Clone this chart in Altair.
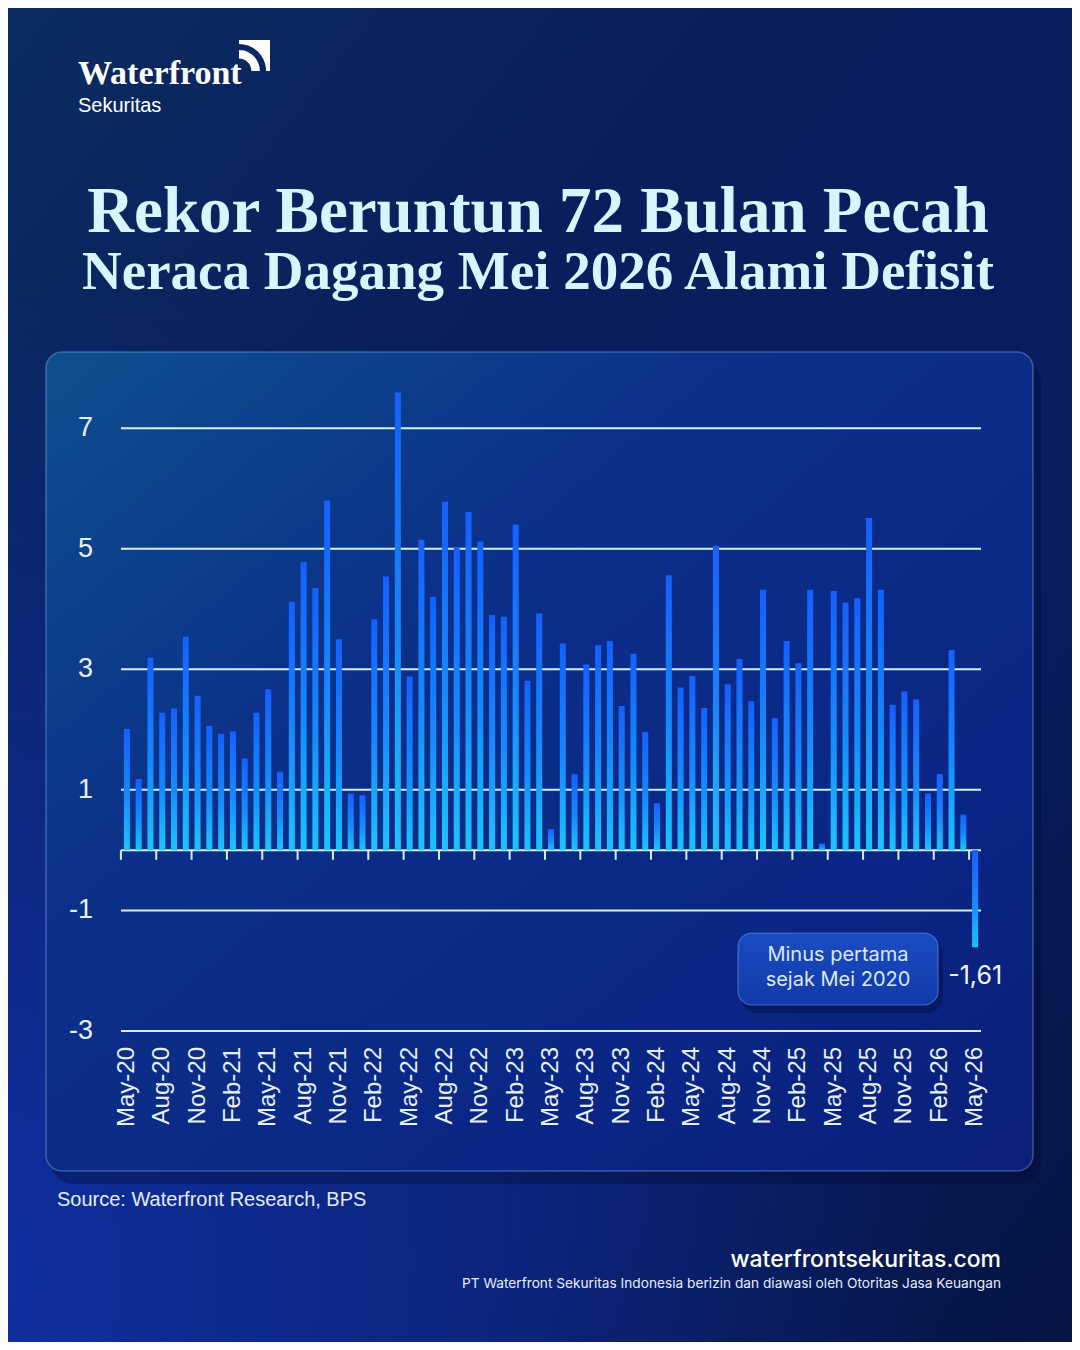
import altair as alt
import pandas as pd

# ---------------- data ----------------
months = [d.strftime("%b-%y") for d in pd.date_range("2020-05-01", "2026-05-01", freq="MS")]
balance = [
    2.01, 1.18, 3.19, 2.28, 2.35, 3.54, 2.56, 2.06, 1.93, 1.97,
    1.52, 2.28, 2.67, 1.30, 4.12, 4.78, 4.35, 5.80, 3.50, 0.94,
    0.91, 3.83, 4.54, 7.59, 2.88, 5.15, 4.20, 5.78, 5.02, 5.61,
    5.12, 3.90, 3.87, 5.40, 2.81, 3.93, 0.35, 3.43, 1.26, 3.08,
    3.40, 3.47, 2.39, 3.26, 1.96, 0.78, 4.56, 2.70, 2.89, 2.36,
    5.05, 2.75, 3.17, 2.47, 4.32, 2.19, 3.47, 3.10, 4.32, 0.11,
    4.30, 4.11, 4.18, 5.51, 4.32, 2.41, 2.63, 2.50, 0.94, 1.26,
    3.32, 0.59, -1.61,
]
y_ticks = [7, 5, 3, 1, -1, -3]
x_label_months = months[::3]

title_line1 = "Rekor Beruntun 72 Bulan Pecah"
title_line2 = "Neraca Dagang Mei 2026 Alami Defisit"
note_line1 = "Minus pertama"
note_line2 = "sejak Mei 2020"
source_text = "Source: Waterfront Research, BPS"
site_text = "waterfrontsekuritas.com"
legal_text = "PT Waterfront Sekuritas Indonesia berizin dan diawasi oleh Otoritas Jasa Keuangan"

df = pd.DataFrame({"month": months, "value": balance})
df["zero"] = 0.0
df["label"] = [f"{v:.2f}".replace(".", ",") for v in balance]
last_df = df.iloc[[-1]]
grid_df = pd.DataFrame({"g": y_ticks, "glabel": [str(v) for v in y_ticks]})
tick_df = pd.DataFrame({"month": x_label_months, "t0": [0.0] * len(x_label_months),
                        "t1": [-0.16] * len(x_label_months)})
one = pd.DataFrame({"k": [0.0]})

W, H = 860, 639
PL, PT = 113, 384
TOTAL_W, TOTAL_H = 1064, 1334

xscale = alt.Scale(domain=months, paddingInner=0.49, paddingOuter=0.245)
yscale = alt.Scale(domain=[-3, 7.6], nice=False)

LABEL_COLOR = "#e6f1ff"
GRID_COLOR = "#d2eeff"


def grad(stops, x1=0, y1=0, x2=0, y2=1):
    return alt.LinearGradient(
        gradient="linear", x1=x1, y1=y1, x2=x2, y2=y2,
        stops=[alt.GradientStop(offset=o, color=c) for o, c in stops])


# ---------------- background ----------------
bg = alt.Chart(one).mark_rect(
    fill=grad([(0, "#0a2c60"), (0.35, "#0a1d5c"), (0.7, "#091c60"), (1, "#061443")], 0, 0, 1, 1)
).encode(x=alt.value(-PL), x2=alt.value(TOTAL_W - PL), y=alt.value(-PT), y2=alt.value(TOTAL_H - PT))

glow = alt.Chart(one).mark_rect(
    fill=alt.RadialGradient(
        gradient="radial", x1=0.05, y1=0.95, r1=0, x2=0.05, y2=0.95, r2=0.75,
        stops=[alt.GradientStop(offset=0, color="rgba(16,52,180,0.8)"),
               alt.GradientStop(offset=1, color="rgba(16,52,180,0)")])
).encode(x=alt.value(-PL), x2=alt.value(TOTAL_W - PL), y=alt.value(-PT), y2=alt.value(TOTAL_H - PT))

panel_shadow = alt.Chart(one).mark_rect(
    fill="#020a30", opacity=0.35, cornerRadius=22
).encode(x=alt.value(-70), x2=alt.value(920), y=alt.value(-32), y2=alt.value(792))

panel = alt.Chart(one).mark_rect(
    fill=grad([(0, "#0e4f8e"), (0.35, "#0b3088"), (0.75, "#0a2585"), (1, "#0a1f78")], 0, 0, 1, 1),
    stroke="rgba(150,195,255,0.35)", strokeWidth=1.5, cornerRadius=16
).encode(x=alt.value(-75), x2=alt.value(912), y=alt.value(-40), y2=alt.value(779))

# ---------------- chart marks ----------------
grid = alt.Chart(grid_df).mark_rule(color=GRID_COLOR, strokeWidth=2).encode(
    y=alt.Y("g:Q", scale=yscale, axis=None), x=alt.value(0), x2=alt.value(W))

y_labels = alt.Chart(grid_df).mark_text(font="Liberation Sans", fontSize=27, color=LABEL_COLOR,
                                        align="right", baseline="middle").encode(
    y=alt.Y("g:Q", scale=yscale, axis=None), x=alt.value(-28), text="glabel:N")

baseline = alt.Chart(one).mark_rule(color=GRID_COLOR, strokeWidth=2).encode(
    y=alt.Y("k:Q", scale=yscale, axis=None), x=alt.value(0), x2=alt.value(W))

ticks = alt.Chart(tick_df).mark_rule(color=GRID_COLOR, strokeWidth=2, xOffset=-3).encode(
    x=alt.X("month:N", sort=months, scale=xscale, bandPosition=0, axis=None),
    y=alt.Y("t0:Q", scale=yscale, axis=None), y2="t1:Q")

x_labels = alt.Chart(tick_df).mark_text(font="Liberation Sans", fontSize=24, color=LABEL_COLOR,
                                        angle=270, align="right", baseline="middle").encode(
    x=alt.X("month:N", sort=months, scale=xscale, axis=None),
    y=alt.value(H + 16), text="month:N")

bars = alt.Chart(df).mark_bar(
    fill=grad([(0, "#1560ff"), (0.55, "#1689ff"), (1, "#1cc4ff")])
).encode(
    x=alt.X("month:N", sort=months, scale=xscale, axis=None),
    y=alt.Y("value:Q", scale=yscale, axis=None),
    y2="zero:Q",
)

# ---------------- annotation ----------------
note_shadow = alt.Chart(one).mark_rect(fill="#020a30", opacity=0.35, cornerRadius=16).encode(
    x=alt.value(620), x2=alt.value(822), y=alt.value(547), y2=alt.value(621))
note_box = alt.Chart(one).mark_rect(
    fill=grad([(0, "#1a4cc2"), (1, "#1239a8")]),
    stroke="rgba(130,170,255,0.45)", strokeWidth=1.2, cornerRadius=14
).encode(x=alt.value(617), x2=alt.value(817), y=alt.value(541), y2=alt.value(613))

note1 = alt.Chart(one).mark_text(text=note_line1, font="Inter", fontSize=20, color="#dbe8ff",
                                 align="center", baseline="middle").encode(
    x=alt.value(717), y=alt.value(563))
note2 = alt.Chart(one).mark_text(text=note_line2, font="Inter", fontSize=20, color="#dbe8ff",
                                 align="center", baseline="middle").encode(
    x=alt.value(717), y=alt.value(588))

value_label = alt.Chart(last_df).mark_text(font="Inter", fontSize=25, color="#f2f7ff", dy=29,
                                           align="center", baseline="middle").encode(
    x=alt.X("month:N", sort=months, scale=xscale, axis=None),
    y=alt.Y("value:Q", scale=yscale, axis=None),
    text="label:N")

# ---------------- titles & branding ----------------
def title_text(txt, size, y, color):
    return alt.Chart(one).mark_text(text=txt, font="Liberation Serif", fontWeight="bold",
                                    fontSize=size, color=color, align="center",
                                    baseline="alphabetic").encode(
        x=alt.value(417), y=alt.value(y))

t1 = title_text(title_line1, 65, -160, "#d6f5ff")
t2 = title_text(title_line2, 55, -103, "#d6f5ff")

logo_word = alt.Chart(one).mark_text(text="Waterfront", font="Liberation Serif", fontWeight="bold",
                                     fontSize=34, color="#ffffff", align="left",
                                     baseline="alphabetic").encode(
    x=alt.value(-43), y=alt.value(-308))
logo_sub = alt.Chart(one).mark_text(text="Sekuritas", font="Liberation Sans", fontSize=20,
                                    color="#ffffff", align="left", baseline="alphabetic").encode(
    x=alt.value(-43), y=alt.value(-280))
icon_path = ("M -1 -1 L 1 -1 L 1 1 L 0.75 1 A 1.75 1.75 0 0 0 -1 -0.75 Z "
             "M 0.35 1 A 1.35 1.35 0 0 0 -1 -0.35 L -1 0.2 A 0.8 0.8 0 0 1 -0.2 1 Z")
icon = alt.Chart(one).mark_point(shape=icon_path, filled=True, fill="#ffffff", opacity=1,
                                 size=961, strokeWidth=0).encode(
    x=alt.value(133.5), y=alt.value(-336.5))

source = alt.Chart(one).mark_text(text=source_text, font="Liberation Sans", fontSize=20,
                                  color="#e3ecff", align="left", baseline="alphabetic").encode(
    x=alt.value(-64), y=alt.value(814))
site = alt.Chart(one).mark_text(text=site_text, font="Inter", fontSize=23, fontWeight=500,
                                color="#ffffff", align="right", baseline="alphabetic").encode(
    x=alt.value(880), y=alt.value(875))
legal = alt.Chart(one).mark_text(text=legal_text, font="Inter", fontSize=13.7,
                                 color="#e3ecff", align="right", baseline="alphabetic").encode(
    x=alt.value(880), y=alt.value(896))

chart = alt.layer(
    bg, glow, panel_shadow, panel, grid, y_labels, baseline, ticks, x_labels, bars,
    note_shadow, note_box, note1, note2, value_label,
    t1, t2, logo_word, logo_sub, icon,
    source, site, legal,
).properties(
    width=W, height=H,
    autosize=alt.AutoSizeParams(type="none"),
    padding={"left": PL, "top": PT, "right": TOTAL_W - PL - W, "bottom": TOTAL_H - PT - H},
    background="#081c58",
).configure_view(stroke=None)

chart.save("out.html", embed_options={"renderer": "svg", "actions": False})
